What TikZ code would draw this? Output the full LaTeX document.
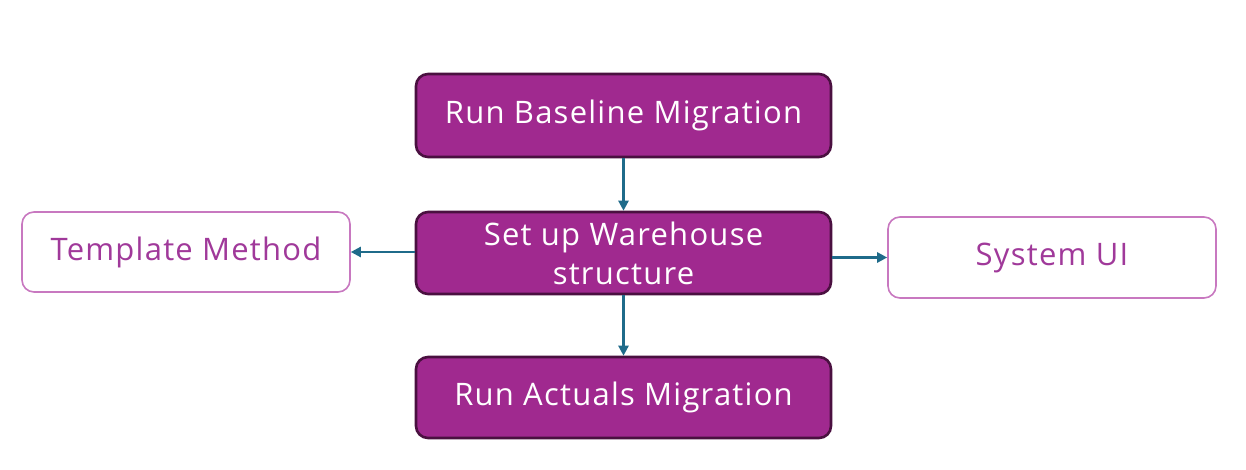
\documentclass[tikz,border=0pt]{standalone}
\usepackage{fontspec}
\setmainfont{Open Sans}[LetterSpace=4]
\usetikzlibrary{arrows.meta}
\definecolor{mainfill}{HTML}{A0298F}
\definecolor{mainborder}{HTML}{4A1040}
\definecolor{arrowcol}{HTML}{1F6B8A}
\definecolor{lightborder}{HTML}{C878C0}
\definecolor{lighttext}{HTML}{A0399A}
\tikzset{
  mainbox/.style={draw=mainborder, fill=mainfill, line width=2.6pt, rounded corners=12pt,
    text=white, font=\fontsize{31}{39}\selectfont, align=center, inner sep=0pt},
  sidebox/.style={draw=lightborder, fill=white, line width=1.6pt, rounded corners=12pt,
    text=lighttext, font=\fontsize{31}{39}\selectfont, align=center, inner sep=0pt},
  conn/.style={draw=arrowcol, line width=2.4pt, -{Triangle[length=10pt,width=10pt]}}
}
\begin{document}
\begin{tikzpicture}[x=1pt,y=-1pt]
\useasboundingbox[fill=white] (0,0) rectangle (1246,470);
\node[mainbox, minimum width=415pt, minimum height=83pt] (base) at (623.5,115.5) {Run Baseline Migration};
\node[mainbox, minimum width=415pt, minimum height=82pt] (wh) at (623.5,253) {Set up Warehouse\\structure};
\node[mainbox, minimum width=415pt, minimum height=81pt] (act) at (623.5,397.5) {Run Actuals Migration};
\node[sidebox, minimum width=328pt, minimum height=80pt] (tm) at (186,252) {Template Method};
\node[sidebox, minimum width=328pt, minimum height=81pt] (sui) at (1052,257.5) {System UI};
\draw[conn] (base.south) -- (wh.north);
\draw[conn] (wh.south) -- (act.north);
\draw[conn] (wh.west |- tm.east) -- (tm.east);
\draw[conn] (wh.east |- sui.west) -- (sui.west);
\end{tikzpicture}
\end{document}
